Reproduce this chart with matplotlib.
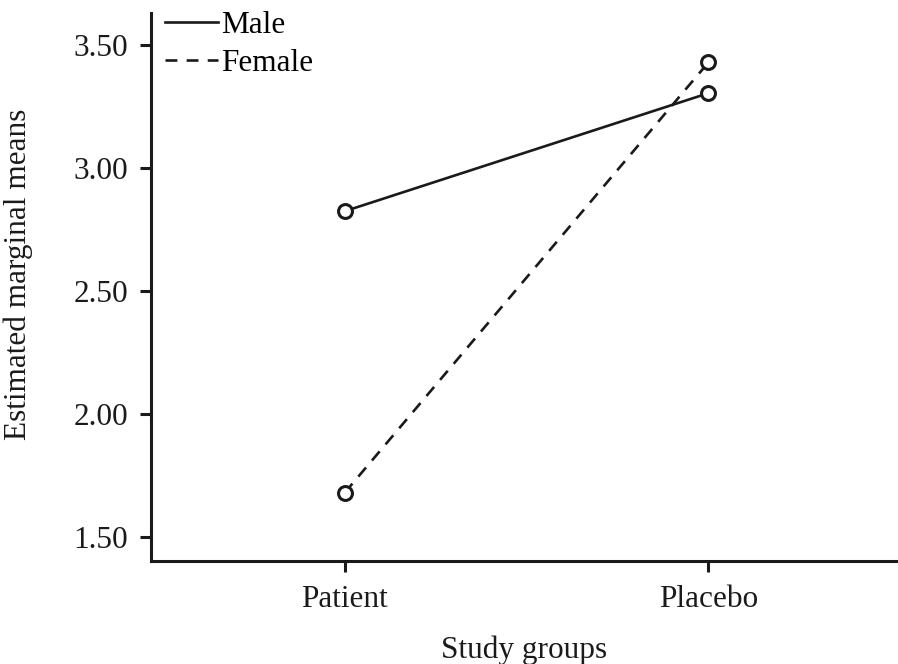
import matplotlib
matplotlib.use("Agg")
import matplotlib.pyplot as plt

# Estimated marginal means by study group and sex
groups = ["Patient", "Placebo"]
male = [2.825, 3.305]
female = [1.68, 3.43]
y_ticks = [1.50, 2.00, 2.50, 3.00, 3.50]

plt.rcParams["font.family"] = ["Liberation Serif", "DejaVu Serif"]
FS = 22.5
INK = "#1a1a1a"

fig = plt.figure(figsize=(8.98, 6.64), dpi=100)
ax = fig.add_axes([0.168, 0.155, 0.831, 0.825])

x = list(range(len(groups)))
ax.plot(x, male, color=INK, lw=1.9, ls="-", marker="o", ms=10,
        mfc="white", mec=INK, mew=2.2, label="Male", zorder=3)
ax.plot(x, female, color=INK, lw=1.9, ls=(0, (4.5, 3.5)), marker="o", ms=10,
        mfc="white", mec=INK, mew=2.2, label="Female", zorder=3)

ax.set_xlim(-0.533, 1.519)
ax.set_ylim(1.402, 3.63)
ax.set_xticks(x)
ax.set_xticklabels(groups)
ax.set_yticks(y_ticks)
ax.set_yticklabels([f"{v:.2f}" for v in y_ticks])

for side in ["top", "right"]:
    ax.spines[side].set_visible(False)
for side in ["left", "bottom"]:
    ax.spines[side].set_linewidth(2.2)
    ax.spines[side].set_color(INK)

ax.tick_params(axis="both", labelsize=FS, colors=INK, width=2.2, length=8)
ax.tick_params(axis="y", pad=8.5)
ax.tick_params(axis="x", pad=9)

ax.set_xlabel("Study groups", fontsize=FS, color=INK, labelpad=16)
ax.set_ylabel("Estimated marginal means", fontsize=FS, color=INK)
ax.yaxis.set_label_coords(-0.158, 0.524)

leg = ax.legend(loc="upper left", bbox_to_anchor=(-0.011, 1.045), frameon=False,
                fontsize=FS, handlelength=1.7, handletextpad=0.1,
                labelspacing=0.3, borderaxespad=0.3)
for h in leg.legend_handles:
    h.set_marker("")

fig.savefig("out.png", dpi=100)
